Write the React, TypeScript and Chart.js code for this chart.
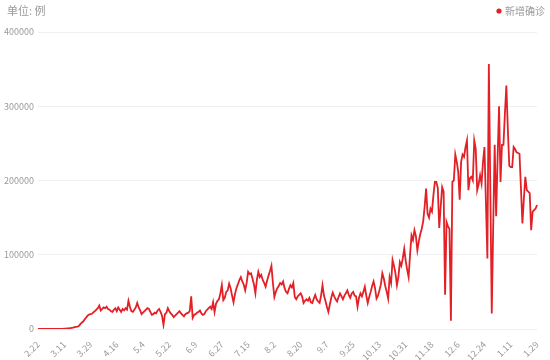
import React, { useEffect, useRef } from "react";
import { Chart, registerables } from "chart.js";

Chart.register(...registerables);

// Daily new confirmed cases, 2020-02-22 .. 2021-01-29
const feb = [0, 0, 1, 0, 0, 3, 1, 4];
const mar = [8, 20, 25, 30, 60, 70, 110, 120, 200, 290, 380, 450, 700, 800, 1000, 1600, 2000, 2600, 3000, 3300, 4000, 6500, 8500, 10000, 13000, 15500, 18000, 19500, 20000, 20500, 22500];
const apr = [24000, 26000, 28000, 31500, 25000, 27000, 29000, 28000, 30000, 27000, 26000, 24000, 23000, 26000, 28000, 24000, 29000, 26000, 23000, 27000, 25000, 28000, 26000, 38000, 30000, 24000, 23000, 26000, 29000, 35000];
const may = [29000, 25000, 20000, 22000, 24000, 26000, 28000, 27000, 23000, 19000, 20000, 22000, 21000, 25000, 27000, 23000, 18000, 5500, 20000, 22000, 28000, 24000, 21000, 19000, 16000, 18000, 20000, 22000, 24000, 21000, 19000];
const jun = [17000, 20000, 21000, 22000, 24000, 44000, 15000, 19000, 20000, 22000, 23000, 25000, 21000, 19000, 20000, 24000, 26000, 28000, 30000, 27000, 36000, 23000, 34000, 38000, 40000, 48000, 59000, 39000, 42000, 50000];
const jul = [52000, 61000, 55000, 45000, 36000, 47000, 55000, 60000, 66000, 70000, 64000, 60000, 52000, 62000, 77000, 74000, 75000, 68000, 60000, 48000, 66000, 77000, 70000, 73000, 66000, 62000, 57000, 65000, 72000, 78000, 85000];
const aug = [62000, 43000, 50000, 55000, 58000, 62000, 60000, 64000, 55000, 50000, 48000, 54000, 59000, 56000, 62000, 43000, 40000, 44000, 46000, 48000, 44000, 35000, 38000, 40000, 38000, 42000, 36000, 35000, 41000, 46000, 40000];
const sep = [37000, 35000, 45000, 59000, 45000, 38000, 30000, 23000, 33000, 42000, 49000, 44000, 40000, 37000, 43000, 48000, 44000, 40000, 45000, 48000, 52000, 46000, 42000, 48000, 50000, 45000, 44000, 30000, 42000, 48000];
const oct = [44000, 50000, 57000, 45000, 35000, 43000, 50000, 58000, 64000, 55000, 41000, 45000, 52000, 60000, 75000, 68000, 58000, 50000, 41000, 70000, 62000, 93000, 85000, 75000, 59000, 70000, 90000, 85000, 95000, 108000, 92000];
const nov = [80000, 70000, 100000, 126000, 120000, 133000, 125000, 106000, 118000, 128000, 135000, 145000, 165000, 189000, 155000, 150000, 162000, 158000, 180000, 198000, 198000, 190000, 136000, 165000, 191000, 185000, 46000, 144000, 138000, 135000];
const dec = [11000, 198000, 200000, 235000, 225000, 212000, 174000, 225000, 235000, 232000, 245000, 254000, 187000, 203000, 205000, 200000, 254000, 243000, 187000, 195000, 207000, 196000, 225000, 245000, 170000, 95000, 357000, 190000, 21000, 140000, 248000];
const jan = [152000, 230000, 300000, 198000, 248000, 248000, 290000, 328000, 270000, 220000, 218000, 218000, 245000, 242000, 238000, 237000, 236000, 190000, 142000, 175000, 205000, 187000, 185000, 183000, 133000, 158000, 160000, 162000, 167000];

const values = [...feb, ...mar, ...apr, ...may, ...jun, ...jul, ...aug, ...sep, ...oct, ...nov, ...dec, ...jan];

const seriesName = "新增确诊";
const unitLabel = "单位: 例";
const yTicks = [0, 100000, 200000, 300000, 400000];
const labelEvery = 18;

function buildLabels(n: number): string[] {
  const out: string[] = [];
  const d = new Date(2020, 1, 22);
  for (let i = 0; i < n; i++) {
    out.push(`${d.getMonth() + 1}.${d.getDate()}`);
    d.setDate(d.getDate() + 1);
  }
  return out;
}
const labels = buildLabels(values.length);

const RED = "rgb(226, 32, 38)";
const GRAY = "#9a9a9a";
const FONT = "'Noto Sans CJK SC', 'Noto Sans', sans-serif";

export default function App() {
  const ref = useRef<HTMLCanvasElement | null>(null);

  useEffect(() => {
    document.body.style.margin = "0";
    if (!ref.current) return;
    const headerPlugin = {
      id: "headerText",
      afterDraw(chart: any) {
        const ctx = chart.ctx;
        ctx.save();
        ctx.font = `11px ${FONT}`;
        ctx.fillStyle = GRAY;
        ctx.textBaseline = "middle";
        ctx.textAlign = "left";
        ctx.fillText(unitLabel, 7, 11);
        // legend (series name with dot)
        ctx.font = `10px ${FONT}`;
        ctx.textAlign = "right";
        ctx.fillText(seriesName, 545, 11);
        const w = ctx.measureText(seriesName).width;
        ctx.fillStyle = chart.data.datasets[0].borderColor;
        ctx.beginPath();
        ctx.arc(545 - w - 6, 11, 2.6, 0, Math.PI * 2);
        ctx.fill();
        ctx.restore();
      },
    };
    const chart = new Chart(ref.current, {
      type: "line",
      data: {
        labels,
        datasets: [
          {
            label: seriesName,
            data: values,
            borderColor: RED,
            backgroundColor: RED,
            borderWidth: 1.8,
            pointRadius: 0,
            tension: 0,
            fill: false,
          },
        ],
      },
      options: {
        responsive: false,
        animation: false,
        layout: { padding: { top: 32, right: 13, left: 0, bottom: 0 } },
        plugins: {
          legend: { display: false },
          tooltip: { enabled: false },
        },
        scales: {
          x: {
            grid: { display: false },
            border: { display: false },
            afterFit(scale: any) {
              scale.height = 31;
            },
            ticks: {
              autoSkip: false,
              minRotation: 45,
              maxRotation: 45,
              color: GRAY,
              padding: 2,
              font: { size: 9, family: FONT },
              callback: (_v: any, i: number) => (i % labelEvery === 0 ? labels[i] : ""),
            },
          },
          y: {
            min: 0,
            max: 400000,
            afterFit(scale: any) {
              scale.width = 38;
            },
            afterBuildTicks(scale: any) {
              scale.ticks = yTicks.map((v) => ({ value: v }));
            },
            grid: { color: "#efefef", drawTicks: false, lineWidth: 1 },
            border: { display: false },
            ticks: {
              color: GRAY,
              padding: 4,
              font: { size: 9, family: FONT },
              callback: (v: any) => String(v),
            },
          },
        },
      },
      plugins: [headerPlugin],
    });
    return () => chart.destroy();
  }, []);

  return (
    <div style={{ width: 550, height: 360 }}>
      <canvas ref={ref} width={550} height={360} />
    </div>
  );
}
